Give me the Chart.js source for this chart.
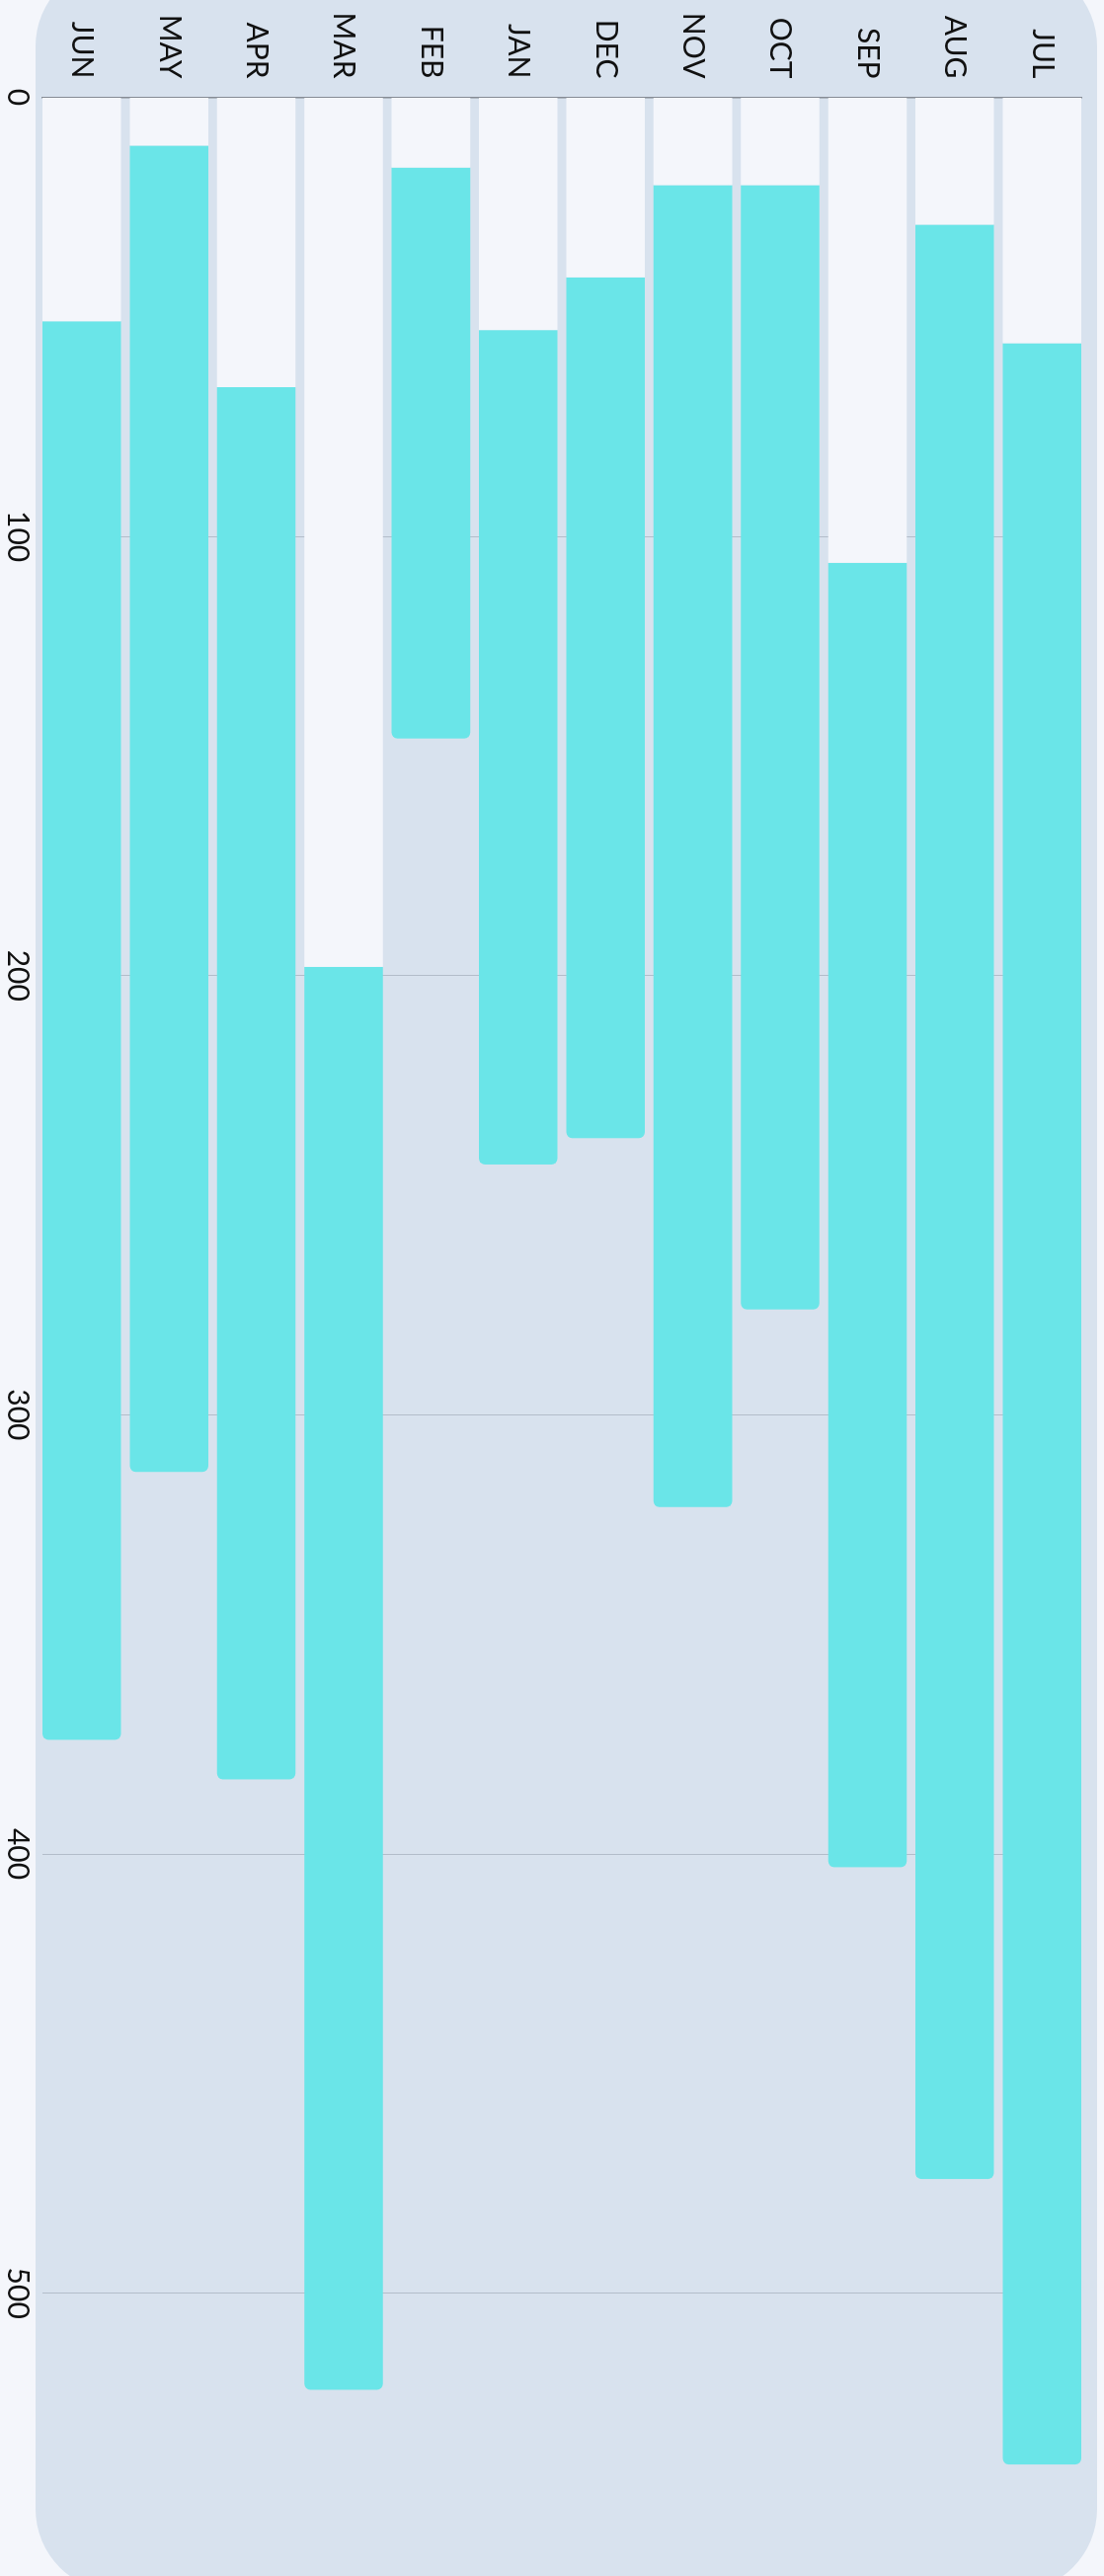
<!DOCTYPE html>
<html>
<head>
<meta charset="utf-8">
<title>Monthly ranges</title>
<script src="https://cdn.jsdelivr.net/npm/chart.js@4.4.1/dist/chart.umd.min.js"></script>
<style>
  html, body { margin: 0; padding: 0; }
  body {
    position: relative;
    width: 1118px;
    height: 2608px;
    overflow: hidden;
    background: #f4f6fb;
  }
  /* card behind the plot */
  .panel {
    position: absolute;
    left: 36px;
    top: -37px;
    width: 1075px;
    height: 2661px;
    border-radius: 84px;
    background: #d8e2ee;
  }
  /* chart is drawn as a horizontal bar chart, then turned a quarter clockwise */
  .turned {
    position: absolute;
    left: 0;
    top: 0;
    width: 2608px;
    height: 1118px;
    transform-origin: 0 0;
    transform: translateX(1118px) rotate(90deg);
  }
</style>
</head>
<body>
<div class="panel"></div>
<div class="turned">
  <canvas id="range-chart" width="2608" height="1118"></canvas>
</div>
<script>
const months = ["JUL", "AUG", "SEP", "OCT", "NOV", "DEC", "JAN", "FEB", "MAR", "APR", "MAY", "JUN"];
const rangeStart = [56, 29, 106, 20, 20, 41, 53, 16, 198, 66, 11, 51];
const rangeEnd = [539, 474, 403, 276, 321, 237, 243, 146, 522, 383, 313, 374];
const valueTicks = [0, 100, 200, 300, 400, 500];

const trackColor = "#f4f6fb";
const barColor = "#6ae5e8";
const gridColor = "#b3bdca";
const labelColor = "#111111";

Chart.defaults.font.family = "Lato";

document.addEventListener("DOMContentLoaded", () => {
  const ctx = document.getElementById("range-chart");

  // eslint-disable-next-line no-new
  new Chart(ctx, {
    type: "bar",
    data: {
      datasets: [
        {
          label: "track",
          data: months.map((_, i) => ({ y: i, x: [0, rangeStart[i]] })),
          backgroundColor: trackColor,
          borderWidth: 0,
          borderRadius: 0,
          grouped: false,
        },
        {
          label: "range",
          data: months.map((_, i) => ({ y: i, x: [rangeStart[i], rangeEnd[i]] })),
          backgroundColor: barColor,
          borderWidth: 0,
          borderRadius: 6,
          borderSkipped: "start",
          grouped: false,
        },
      ],
    },
    options: {
      indexAxis: "y",
      responsive: false,
      animation: false,
      devicePixelRatio: 1,
      categoryPercentage: 0.9,
      barPercentage: 1,
      layout: {
        padding: { top: 23, right: 64, bottom: 0, left: 0 },
      },
      plugins: {
        legend: { display: false },
        tooltip: { enabled: false },
      },
      scales: {
        x: {
          type: "linear",
          position: "bottom",
          bounds: "data",
          min: 0,
          max: 550,
          afterBuildTicks: (scale) => {
            scale.ticks = valueTicks.map((v) => ({ value: v }));
          },
          afterFit: (scale) => {
            scale.height = 43;
            scale.paddingLeft = 0;
            scale.paddingRight = 0;
          },
          grid: {
            color: (c) => (c.tick && c.tick.value === 0 ? "rgba(0,0,0,0)" : gridColor),
            lineWidth: 1,
            drawTicks: false,
          },
          border: { display: false },
          ticks: {
            color: labelColor,
            font: { size: 30 },
            padding: 7,
            maxRotation: 0,
            autoSkip: false,
          },
        },
        y: {
          type: "linear",
          position: "left",
          bounds: "data",
          offset: false,
          reverse: true,
          min: -0.45,
          max: 11.45,
          afterBuildTicks: (scale) => {
            scale.ticks = months.map((_, i) => ({ value: i }));
          },
          afterFit: (scale) => {
            scale.width = 98.5;
            scale.paddingTop = 0;
            scale.paddingBottom = 0;
          },
          grid: { display: false, drawTicks: false },
          border: { display: true, color: "#858b94", width: 1.5 },
          ticks: {
            callback: (v) => months[v],
            color: labelColor,
            font: { size: 30 },
            padding: 19,
            autoSkip: false,
          },
        },
      },
    },
  });
});
</script>
</body>
</html>
